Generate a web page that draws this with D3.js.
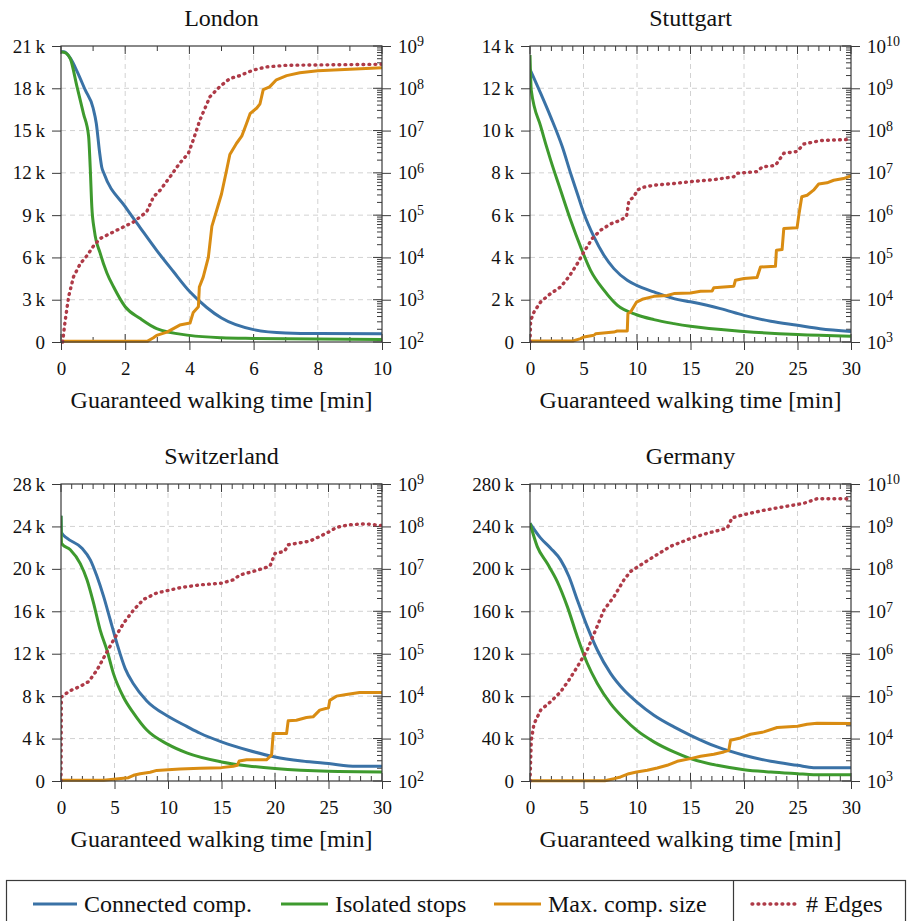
<!DOCTYPE html>
<html>
<head>
<meta charset="utf-8">
<script src="https://cdn.jsdelivr.net/npm/d3@7"></script>
<style>
  body { margin: 0; background: #fff; }
  svg { display: block; }
  svg text { font-family: "Liberation Serif", Tinos, "Times New Roman", "DejaVu Serif", serif !important; fill: #111; }
</style>
</head>
<body>
<svg id="chart" width="909" height="921"></svg>
<script>
// ---------- data: [walking time in min, value] ----------
const seriesNames = ["Connected comp.", "Isolated stops", "Max. comp. size", "# Edges"];

const londonConnected = [[0,20600],[0.1,20600],[0.3,20100],[0.5,19200],[0.75,17900],[1.0,16600],[1.1,15500],[1.2,13500],[1.27,12400],[1.33,12000],[2.0,9600],[2.47,8100],[2.98,6500],[3.5,5000],[4.0,3600],[4.54,2450],[5.0,1700],[6.0,880],[7.0,640],[8,600],[10,590]];
const londonIsolated = [[0,20600],[0.15,20500],[0.29,20100],[0.5,18100],[0.7,16200],[0.86,14600],[0.91,12400],[0.96,9600],[1.04,7900],[1.22,6300],[1.43,4900],[1.64,3900],[2.0,2500],[2.47,1660],[2.98,950],[4.0,470],[5.0,300],[6,250],[10,170]];
const londonMaxComp = [[0,50],[2.7,60],[2.88,300],[2.98,470],[3.3,700],[3.7,1200],[4.02,1350],[4.12,2100],[4.28,2500],[4.31,3900],[4.43,4600],[4.59,6000],[4.7,8200],[4.85,9350],[5.0,10500],[5.16,12200],[5.26,13300],[5.47,14100],[5.63,14600],[5.78,15500],[5.89,16200],[6.1,16600],[6.2,16900],[6.3,17900],[6.5,18100],[6.71,18600],[7.03,18900],[7.44,19100],[8.0,19250],[9.0,19350],[10,19450]];
const londonEdges = [[0.05,1e2],[0.13,3.2e2],[0.24,1.2e3],[0.39,3.5e3],[0.6,7.1e3],[0.81,1.1e4],[1.02,1.9e4],[1.22,2.8e4],[1.74,4.4e4],[2.26,6.9e4],[2.67,1.2e5],[2.88,2.7e5],[3.09,3.9e5],[3.4,8.1e5],[3.7,1.7e6],[3.97,2.9e6],[4.12,6.0e6],[4.33,1.8e7],[4.64,6.3e7],[4.95,1.1e8],[5.26,1.7e8],[5.58,2.0e8],[5.99,2.7e8],[6.4,3.2e8],[7.03,3.5e8],[10,3.7e8]];

const stuttgartConnected = [[0,12900],[1.0,11760],[1.93,10650],[3.02,9230],[3.8,7970],[4.42,7020],[5.04,6080],[5.98,4970],[6.91,4100],[7.84,3470],[9.09,2920],[9.96,2680],[11.58,2370],[13.45,2050],[15,1900],[17.8,1580],[20,1260],[22.5,980],[25,790],[27.1,630],[30,500]];
const stuttgartIsolated = [[0,13570],[0.12,11900],[1.0,10200],[1.93,8600],[2.86,7180],[3.8,5760],[4.73,4500],[5.66,3390],[6.91,2450],[8.15,1740],[9.96,1290],[11.58,1060],[13.45,870],[15,740],[20,500],[25,350],[30,270]];
const stuttgartMaxComp = [[0,50],[4.0,50],[4.73,160],[5.04,240],[5.98,320],[6.13,390],[7.84,470],[8.15,520],[9.09,520],[9.15,1340],[9.4,1420],[9.96,1890],[10.49,2020],[11.58,2160],[12.82,2200],[13.45,2290],[15,2320],[15.94,2400],[17.02,2410],[17.18,2570],[19.05,2640],[19.2,2920],[20,3000],[21.22,3050],[21.54,3550],[22.94,3580],[23.03,4340],[23.56,4370],[23.72,5370],[24.96,5400],[25.1,5920],[25.4,6870],[25.9,6940],[26.5,7180],[26.98,7470],[27.76,7530],[28.38,7650],[29.3,7730],[30,7860]];
const stuttgartEdges = [[0,1e3],[0.06,3.2e3],[0.37,5.1e3],[1.0,8.9e3],[1.93,1.4e4],[2.86,2.0e4],[3.64,3.5e4],[4.42,7.1e4],[5.04,1.35e5],[5.82,2.8e5],[6.6,4.4e5],[7.53,6.2e5],[8.47,7.6e5],[9.03,9.5e5],[9.24,2.2e6],[9.71,2.7e6],[10.02,3.9e6],[10.49,4.5e6],[11.58,5.1e6],[13.45,5.6e6],[15,6.2e6],[17.18,6.9e6],[19.05,8.1e6],[19.35,9.8e6],[21.22,1.07e7],[21.7,1.38e7],[22.94,1.5e7],[23.72,2.9e7],[24.96,3.2e7],[25.58,4.8e7],[27.14,5.8e7],[30,6.2e7]];

const switzerlandConnected = [[0,25000],[0.05,23400],[0.56,22900],[1.96,21950],[2.74,20850],[3.36,19300],[3.98,17400],[4.6,15200],[5.22,13000],[6.0,10600],[6.78,9150],[8.02,7550],[10,6100],[11.75,5150],[13,4500],[15,3690],[17.5,2900],[20,2270],[22.5,1890],[25,1640],[27.6,1390],[30,1390]];
const switzerlandIsolated = [[0,25000],[0.05,22400],[0.87,21800],[1.8,20500],[2.42,19000],[3.05,16750],[3.67,14200],[4.29,12350],[4.91,10100],[5.84,7900],[6.78,6400],[8.02,4800],[10,3450],[11.75,2650],[15,1800],[17.5,1420],[20,1170],[25,910],[30,850]];
const switzerlandMaxComp = [[0,60],[4.0,60],[4.91,160],[6.3,310],[6.78,540],[7.4,690],[8.33,820],[8.95,1000],[10,1070],[11.13,1130],[13,1200],[15,1260],[16.1,1390],[16.47,1480],[16.66,1890],[17.35,2000],[19.2,2000],[19.68,2430],[19.83,4470],[21.08,4470],[21.23,5670],[22.0,5730],[22.94,5980],[23.56,6050],[24.18,6680],[25,6900],[25.12,7600],[25.74,8000],[26.67,8160],[27.9,8350],[30,8350]];
const switzerlandEdges = [[0,1e2],[0.03,9.5e3],[0.25,1.05e4],[0.87,1.35e4],[1.8,1.7e4],[2.58,2.2e4],[3.36,4.1e4],[4.13,9.3e4],[4.91,2.1e5],[5.84,5.2e5],[6.78,1.07e6],[7.71,1.9e6],[8.95,2.7e6],[10,3.1e6],[11.13,3.6e6],[13,4.2e6],[15,4.6e6],[16.1,5.5e6],[16.72,7.2e6],[17.97,8.7e6],[19.52,1.15e7],[20,2.3e7],[20.9,2.6e7],[21.23,3.7e7],[23.25,4.5e7],[24.18,5.8e7],[25.12,7.6e7],[25.74,9.5e7],[26.98,1.1e8],[28.5,1.15e8],[30,1.05e8]];

const germanyConnected = [[0,243000],[1.0,229000],[1.93,219500],[2.86,208500],[3.64,192800],[4.42,170700],[5.35,145500],[6.29,123500],[7.53,101400],[8.78,85700],[9.96,74600],[11.58,62000],[13.45,51000],[15,43100],[17.49,32100],[20,24300],[22.5,18600],[25,14800],[26.5,12600],[30,12600]];
const germanyIsolated = [[0,243000],[0.68,221000],[1.62,205000],[2.55,188000],[3.49,164400],[4.42,136000],[5.35,111000],[6.29,92000],[7.53,73000],[8.78,58900],[9.96,47900],[11.58,36900],[13.45,27400],[15,21100],[17.49,14800],[20,10700],[22.5,8500],[25,6900],[26.5,6000],[30,6000]];
const germanyMaxComp = [[0,300],[7.0,300],[7.84,2200],[8.47,3800],[9.24,6900],[9.96,8500],[10.96,10100],[11.89,12300],[12.82,14800],[13.76,18600],[15,21100],[15.94,23300],[17.18,25200],[18.11,27400],[18.58,29000],[18.74,38400],[19.67,40600],[20.6,44100],[21.85,46300],[23.1,50400],[25,51700],[25.9,53500],[26.83,54500],[30,54200]];
const germanyEdges = [[0,1e3],[0.12,9.1e3],[0.37,2.2e4],[1.0,4.7e4],[1.93,7.4e4],[2.86,1.26e5],[3.64,2.4e5],[4.42,4.9e5],[5.35,1.23e6],[6.13,3.6e6],[6.91,1.07e7],[7.84,2.2e7],[8.78,5.5e7],[9.4,8.7e7],[10.33,1.23e8],[11.58,1.95e8],[13.14,3.4e8],[15,5.2e8],[16.56,6.9e8],[18.43,9.1e8],[18.89,1.6e9],[20,1.9e9],[21.85,2.4e9],[24.03,3.0e9],[25.58,3.5e9],[26.83,4.5e9],[30,4.5e9]];

// ---------- layout and styling ----------
const colors = ["#3a72a6", "#3e9a2e", "#d98c12", "#ae3a47"];
const FONT_LABEL = 24, FONT_TICK = 19;
const SERIF = '"Liberation Serif", Tinos, "Times New Roman", "DejaVu Serif", serif';

const panels = [
  { title: "London", left: 61, right: 382, top: 46, bottom: 342,
    xMax: 10, xMajor: 2, xMinor: 1, yMax: 21000, yStep: 3000, logDomain: [1e2, 1e9],
    data: [londonConnected, londonIsolated, londonMaxComp, londonEdges] },
  { title: "Stuttgart", left: 530, right: 851, top: 46, bottom: 342,
    xMax: 30, xMajor: 5, xMinor: 1, yMax: 14000, yStep: 2000, logDomain: [1e3, 1e10],
    data: [stuttgartConnected, stuttgartIsolated, stuttgartMaxComp, stuttgartEdges] },
  { title: "Switzerland", left: 61, right: 382, top: 484, bottom: 781,
    xMax: 30, xMajor: 5, xMinor: 1, yMax: 28000, yStep: 4000, logDomain: [1e2, 1e9],
    data: [switzerlandConnected, switzerlandIsolated, switzerlandMaxComp, switzerlandEdges] },
  { title: "Germany", left: 530, right: 851, top: 484, bottom: 781,
    xMax: 30, xMajor: 5, xMinor: 1, yMax: 280000, yStep: 40000, logDomain: [1e3, 1e10],
    data: [germanyConnected, germanyIsolated, germanyMaxComp, germanyEdges] }
];

const svg = d3.select("#chart").attr("font-family", SERIF);
const AXIS = "#3a3a3a";

function fmtK(v) { return v === 0 ? "0" : (v / 1000) + "\u2009k"; }

function drawPanel(p, idx) {
  const g = svg.append("g");
  const x = d3.scaleLinear().domain([0, p.xMax]).range([p.left, p.right]);
  const y = d3.scaleLinear().domain([0, p.yMax]).range([p.bottom, p.top]);
  const yl = d3.scaleLog().domain(p.logDomain).range([p.bottom, p.top]);

  const xMajors = d3.range(0, p.xMax + 1e-9, p.xMajor);
  const xMinors = d3.range(0, p.xMax + 1e-9, p.xMinor).filter(v => Math.abs(v / p.xMajor - Math.round(v / p.xMajor)) > 1e-6);
  const yMajors = d3.range(0, p.yMax + 1e-9, p.yStep);
  const e0 = Math.round(Math.log10(p.logDomain[0])), e1 = Math.round(Math.log10(p.logDomain[1]));
  const decades = d3.range(e0, e1 + 1).map(e => Math.pow(10, e));
  const logMinors = [];
  for (let e = e0; e < e1; e++) for (let k = 2; k <= 9; k++) logMinors.push(k * Math.pow(10, e));

  // dashed grid
  const grid = g.append("g").attr("stroke", "#d2d2d2").attr("stroke-width", 1).attr("stroke-dasharray", "5,4");
  grid.selectAll(".gx").data(xMajors.slice(1, -1)).join("line")
    .attr("x1", d => x(d)).attr("x2", d => x(d)).attr("y1", p.top).attr("y2", p.bottom);
  grid.selectAll(".gy").data(yMajors.slice(1, -1)).join("line")
    .attr("x1", p.left).attr("x2", p.right).attr("y1", d => y(d)).attr("y2", d => y(d));

  // inward ticks
  const ticks = g.append("g").attr("stroke", AXIS).attr("stroke-width", 1);
  const vt = (xs, len) => {
    ticks.selectAll(null).data(xs).join("line")
      .attr("x1", d => x(d)).attr("x2", d => x(d)).attr("y1", p.top).attr("y2", p.top + len);
    ticks.selectAll(null).data(xs).join("line")
      .attr("x1", d => x(d)).attr("x2", d => x(d)).attr("y1", p.bottom).attr("y2", p.bottom - len);
  };
  vt(xMajors, 8);
  vt(xMinors, 5);
  ticks.selectAll(null).data(decades).join("line")
    .attr("x1", p.right).attr("x2", p.right - 9).attr("y1", d => yl(d)).attr("y2", d => yl(d));
  ticks.selectAll(null).data(logMinors).join("line")
    .attr("x1", p.right).attr("x2", p.right - 5).attr("y1", d => yl(d)).attr("y2", d => yl(d));

  // curves: smooth counts, piecewise-linear for the stepped series
  const clipId = "clip" + idx;
  g.append("clipPath").attr("id", clipId).append("rect")
    .attr("x", p.left).attr("y", p.top - 2).attr("width", p.right - p.left).attr("height", p.bottom - p.top + 4);
  const lines = g.append("g").attr("clip-path", `url(#${clipId})`);
  const smoothLine = d3.line().x(d => x(d[0])).y(d => y(d[1])).curve(d3.curveMonotoneX);
  const linLine = d3.line().x(d => x(d[0])).y(d => y(d[1]));
  const logLine = d3.line().x(d => x(d[0])).y(d => yl(d[1]));
  p.data.forEach((ser, i) => {
    const gen = i === 3 ? logLine : (i === 2 ? linLine : smoothLine);
    const path = lines.append("path").datum(ser)
      .attr("fill", "none").attr("stroke", colors[i]).attr("stroke-width", 3)
      .attr("stroke-linejoin", "round")
      .attr("d", gen);
    if (i === 3) path.attr("stroke-dasharray", "0.8,5.2").attr("stroke-linecap", "round").attr("stroke-width", 3.4);
  });

  // frame
  g.append("rect").attr("x", p.left).attr("y", p.top)
    .attr("width", p.right - p.left).attr("height", p.bottom - p.top)
    .attr("fill", "none").attr("stroke", AXIS).attr("stroke-width", 1.2);

  // left axis
  const ax = g.append("g").attr("transform", `translate(${p.left},0)`)
    .call(d3.axisLeft(y).tickValues(yMajors).tickSize(9).tickPadding(7).tickFormat(fmtK));
  // bottom axis
  const bx = g.append("g").attr("transform", `translate(0,${p.bottom})`)
    .call(d3.axisBottom(x).tickValues(xMajors).tickSize(8).tickPadding(12).tickFormat(d3.format("d")));
  // right log axis
  const rx = g.append("g").attr("transform", `translate(${p.right},0)`)
    .call(d3.axisRight(yl).tickValues(decades).tickSize(9).tickPadding(7).tickFormat(d => String(Math.round(Math.log10(d)))));

  [ax, bx, rx].forEach(a => {
    a.attr("font-family", SERIF);
    a.select(".domain").remove();
    a.selectAll(".tick line").attr("stroke", AXIS);
    a.selectAll("text").attr("font-size", FONT_TICK).attr("fill", "#111");
  });
  rx.selectAll(".tick text").each(function () {
    const t = d3.select(this);
    const ex = t.text();
    t.text("");
    t.append("tspan").text("10");
    t.append("tspan").attr("dy", "-0.45em").attr("font-size", 14).text(ex);
  });

  // titles
  g.append("text").attr("x", (p.left + p.right) / 2).attr("y", p.top - 20)
    .attr("text-anchor", "middle").attr("font-size", FONT_LABEL).text(p.title);
  g.append("text").attr("x", (p.left + p.right) / 2).attr("y", p.bottom + 66)
    .attr("text-anchor", "middle").attr("font-size", FONT_LABEL).text("Guaranteed walking time [min]");
}

panels.forEach(drawPanel);

// ---------- legend ----------
const legend = svg.append("g");
legend.append("rect").attr("x", 6.5).attr("y", 880.5).attr("width", 899).attr("height", 60)
  .attr("fill", "none").attr("stroke", AXIS).attr("stroke-width", 1.2);
legend.append("line").attr("x1", 733.5).attr("x2", 733.5).attr("y1", 880.5).attr("y2", 921)
  .attr("stroke", AXIS).attr("stroke-width", 1.2);
const legendX = [[33, 77, 84], [281, 328, 335], [494, 541, 548], [752, 797, 806]];
const ly = 904;
seriesNames.forEach((name, i) => {
  const [a, b, t] = legendX[i];
  const ln = legend.append("line").attr("x1", a).attr("x2", b).attr("y1", ly).attr("y2", ly)
    .attr("stroke", colors[i]).attr("stroke-width", 3);
  if (i === 3) ln.attr("stroke-dasharray", "0.8,5.2").attr("stroke-linecap", "round").attr("stroke-width", 3.4);
  legend.append("text").attr("x", t).attr("y", ly).attr("dy", "0.33em")
    .attr("font-size", FONT_LABEL).text(name);
});
</script>
</body>
</html>
